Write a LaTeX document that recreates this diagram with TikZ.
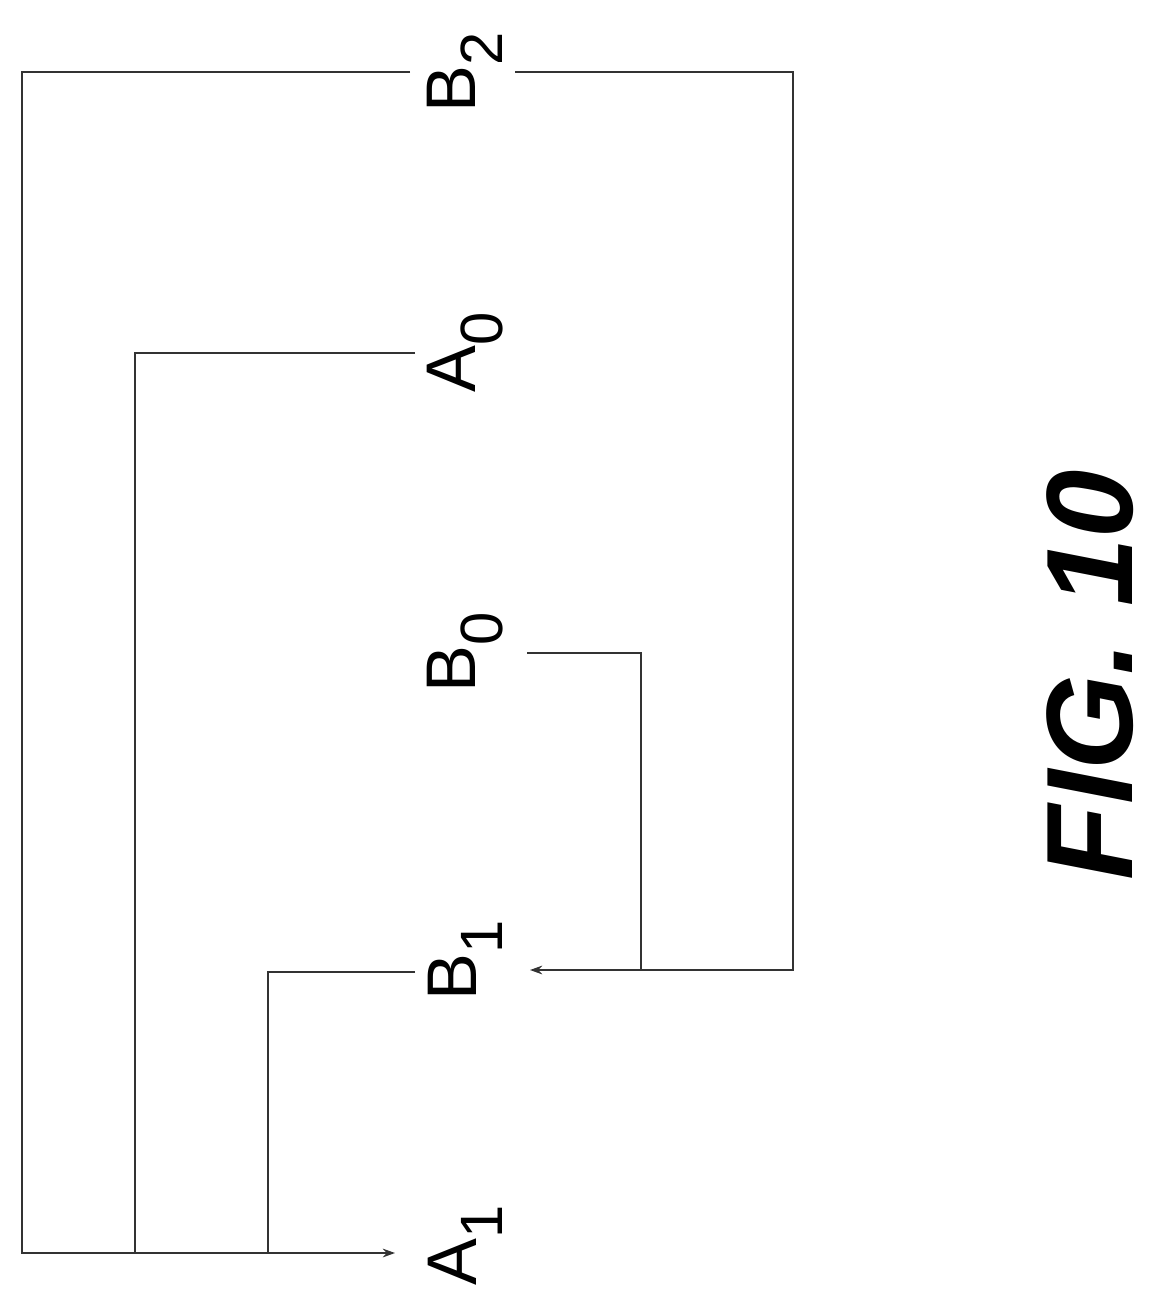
\documentclass[tikz,border=0pt]{standalone}
\usepackage{fontspec}
\setmainfont{Liberation Sans}
\usetikzlibrary{arrows.meta}
\begin{document}
\begin{tikzpicture}[x=0.02cm,y=-0.02cm,
  lbl/.style={rotate=90,inner sep=0pt,font=\fontsize{40}{40}\selectfont},
  wire/.style={line width=0.8pt,draw=black!80},
  arr/.style={wire,-{Stealth[length=7pt,width=5pt]}}]
\useasboundingbox (0,0) rectangle (1171,1294);
\node[lbl] (B2) at (465,72) {B\textsubscript{\fontsize{34}{34}\selectfont 2}};
\node[lbl] (A0) at (465,352) {A\textsubscript{\fontsize{34}{34}\selectfont 0}};
\node[lbl] (B0) at (465,652) {B\textsubscript{\fontsize{34}{34}\selectfont 0}};
\node[lbl] (B1) at (465,960) {B\textsubscript{\fontsize{34}{34}\selectfont 1}};
\node[lbl] (A1) at (465,1245) {A\textsubscript{\fontsize{34}{34}\selectfont 1}};
\coordinate (a1in) at (395,1253);
\coordinate (b1in) at (530,970);
\draw[arr] (410,72) -- (22,72) -- (22,1253) -- (a1in);
\draw[wire] (415,353) -- (135,353) -- (135,1253);
\draw[wire] (415,972) -- (268,972) -- (268,1253);
\draw[arr] (515,72) -- (793,72) -- (793,970) -- (b1in);
\draw[wire] (527,653) -- (641,653) -- (641,970);
\node[rotate=90,font=\fontsize{70}{70}\selectfont\bfseries\itshape] (fig) at (1090,675) {FIG. 10};
\end{tikzpicture}
\end{document}
